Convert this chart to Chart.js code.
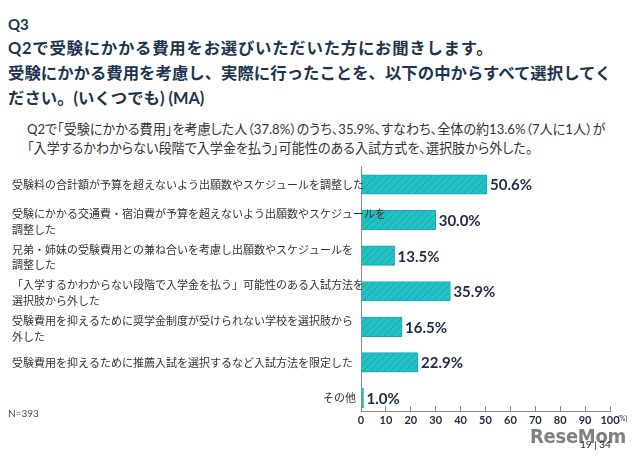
<!DOCTYPE html>
<html>
<head>
<meta charset="utf-8">
<script src="https://cdn.jsdelivr.net/npm/chart.js@4"></script>
<style>
body{margin:0;background:#fff;font-family:"Lato","Noto Sans CJK JP",sans-serif;}
#wrap{position:relative;width:640px;height:459px;overflow:hidden;background:#fff;}
.q{position:absolute;left:8px;top:15px;font-size:15px;font-weight:700;color:#1b3550;}
.t{position:absolute;left:8px;top:35px;font-size:16.4px;font-weight:700;line-height:25px;color:#1b3550;white-space:nowrap;}
.t .l1{letter-spacing:0.75px;}
.s{position:absolute;left:27px;top:120px;font-size:13.1px;line-height:19px;color:#333;white-space:nowrap;font-feature-settings:"palt";}
.n{position:absolute;left:8px;top:407px;font-size:10px;color:#444;}
.pct{position:absolute;left:618px;top:414px;font-size:7px;color:#1c2b45;}
.wm{position:absolute;left:530px;top:424px;font-size:20px;font-weight:700;color:#808080;font-family:"DejaVu Sans Condensed","Liberation Sans Narrow",sans-serif;letter-spacing:-0.3px;}
.pg{position:absolute;left:580px;top:438px;font-size:10px;color:#222;}
#c{position:absolute;left:0;top:160px;}
</style>
</head>
<body>
<div id="wrap">
  <div class="q">Q3</div>
  <div class="t"><span class="l1">Q2で受験にかかる費用をお選びいただいた方にお聞きします。</span><br>受験にかかる費用を考慮し、実際に行ったことを、以下の中からすべて選択してく<br>ださい。(いくつでも) (MA)</div>
  <div class="s">Q2で「受験にかかる費用」を考慮した人（37.8%）のうち、35.9%、すなわち、全体の約13.6%（7人に1人）が<br>「入学するかわからない段階で入学金を払う」可能性のある入試方式を、選択肢から外した。</div>
  <canvas id="c" width="640" height="280"></canvas>
  <div class="n">N=393</div>
  <div class="pct">(%)</div>
  <div class="wm">ReseMom</div>
  <div class="pg">19 | 34</div>
</div>
<script>
const categories = [
    '受験料の合計額が予算を超えないよう出願数やスケジュールを調整した',
    '受験にかかる交通費・宿泊費が予算を超えないよう出願数やスケジュールを\n調整した',
    '兄弟・姉妹の受験費用との兼ね合いを考慮し出願数やスケジュールを\n調整した',
    '「入学するかわからない段階で入学金を払う」可能性のある入試方法を\n選択肢から外した',
    '受験費用を抑えるために奨学金制度が受けられない学校を選択肢から\n外した',
    '受験費用を抑えるために推薦入試を選択するなど入試方法を限定した',
    'その他'
];
const values = [50.6, 30.0, 13.5, 35.9, 16.5, 22.9, 1.0];
const xTicks = [0, 10, 20, 30, 40, 50, 60, 70, 80, 90, 100];

function stripes(){
    const p = document.createElement('canvas');
    p.width = 7; p.height = 7;
    const g = p.getContext('2d');
    g.fillStyle = '#22c2c4';
    g.fillRect(0, 0, 7, 7);
    g.strokeStyle = '#16a6ad';
    g.lineWidth = 1;
    g.beginPath();
    g.moveTo(-1, 8); g.lineTo(8, -1);
    g.moveTo(-1, 1); g.lineTo(1, -1);
    g.moveTo(6, 8); g.lineTo(8, 6);
    g.stroke();
    return document.getElementById('c').getContext('2d').createPattern(p, 'repeat');
}

const labelPlugin = {
    id: 'labels',
    afterDatasetsDraw: (chart) => {
        const ctx = chart.ctx;
        const yScale = chart.scales.y;
        const meta = chart.getDatasetMeta(0);
        ctx.save();
        ctx.textBaseline = 'middle';
        ctx.font = '11px "Noto Sans CJK JP"';
        ctx.fillStyle = '#333';
        categories.forEach((cat, i) => {
            const y = yScale.getPixelForValue(i);
            const lines = cat.split('\n');
            if (i == categories.length - 1) {
                ctx.textAlign = 'right';
                ctx.fillText(cat, 356, y);
            } else {
                ctx.textAlign = 'left';
                const y0 = lines.length > 1 ? y - 6 : y;
                lines.forEach((l, k) => ctx.fillText(l, 12, y0 + k * 15.5));
            }
        });
        ctx.font = 'bold 15px Lato';
        ctx.fillStyle = '#1c2b45';
        ctx.textAlign = 'left';
        meta.data.forEach((bar, i) => {
            ctx.fillText(values[i].toFixed(1) + '%', bar.x + 3, bar.y + 1);
        });
        ctx.restore();
    }
};

new Chart(document.getElementById('c'), {
    type: 'bar',
    data: {
        datasets: [{
            data: values.map((v, i) => ({x: v, y: i})),
            backgroundColor: stripes(),
            borderColor: '#17a9b0',
            borderWidth: 1,
            barThickness: 19.5
        }]
    },
    options: {
        indexAxis: 'y',
        responsive: false,
        animation: false,
        layout: {padding: {top: 6, right: 30, left: 0, bottom: 0}},
        plugins: {legend: {display: false}, tooltip: {enabled: false}},
        scales: {
            x: {
                type: 'linear',
                position: 'bottom',
                min: 0,
                max: 100,
                afterBuildTicks: (s) => { s.ticks = xTicks.map(v => ({value: v})); },
                afterFit: (s) => { s.height = 29; },
                grid: {drawOnChartArea: false, drawTicks: true, tickLength: -5, color: '#8a8a8a'},
                border: {color: '#8a8a8a', width: 1},
                ticks: {padding: 8, color: '#1c2b45', font: {family: 'Lato', size: 11, weight: 'bold'}, maxRotation: 0}
            },
            y: {
                type: 'linear',
                offset: false,
                min: -0.52,
                max: 6.365,
                reverse: true,
                afterFit: (s) => { s.width = 361; },
                grid: {display: false, offset: false},
                border: {color: '#8a8a8a', width: 1},
                ticks: {display: false}
            }
        }
    },
    plugins: [labelPlugin]
});
</script>
</body>
</html>
